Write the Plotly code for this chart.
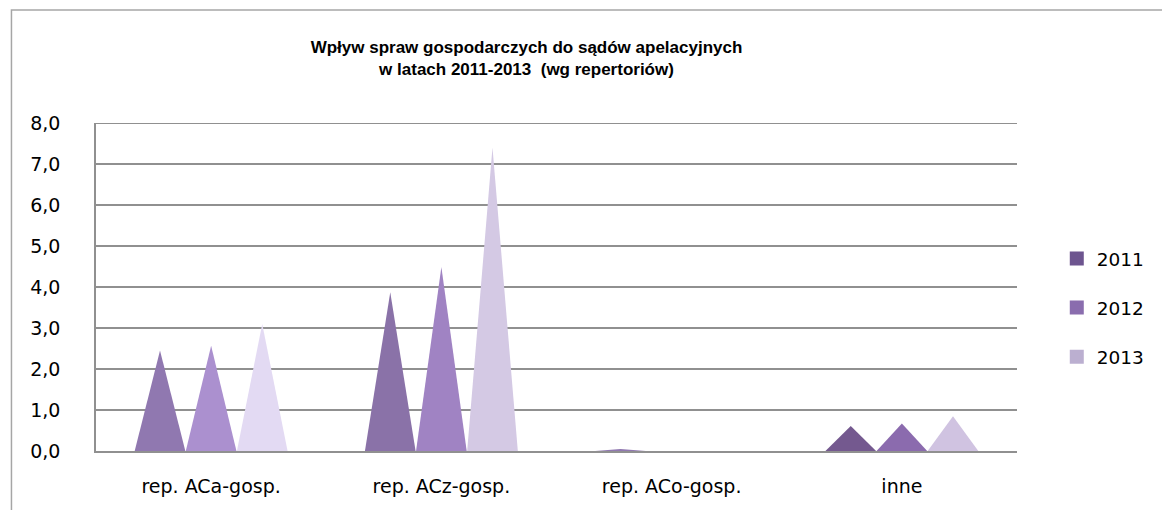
import plotly.graph_objects as go

# Wpływ spraw gospodarczych do sądów apelacyjnych, 2011-2013 (wg repertoriów)
categories = ["rep. ACa-gosp.", "rep. ACz-gosp.", "rep. ACo-gosp.", "inne"]
years = ["2011", "2012", "2013"]
values_2011 = [2.45, 3.87, 0.05, 0.61]
values_2012 = [2.57, 4.49, 0.0, 0.67]
values_2013 = [3.10, 7.40, 0.0, 0.85]
y_ticks = [0, 1, 2, 3, 4, 5, 6, 7, 8]

series = [values_2011, values_2012, values_2013]

# shaded pyramid faces per category (rows) and year (columns)
face_colors = [
    ["#9078B0", "#AB90CF", "#E3DAF3"],
    ["#8A72A8", "#A083C3", "#D4C9E4"],
    ["#9078B0", "#A286C6", "#DCD2EC"],
    ["#74598F", "#8B6BAE", "#D0C3E1"],
]
legend_colors = ["#6D558F", "#8A6DAE", "#BBAFD0"]

W, H = 1162, 510
L, R, T, B = 96, 1022, 123, 451   # plot area in pixels

half = 0.11      # half base width of a pyramid, in category units
step = 0.222     # distance between neighbouring pyramids in a group

fig = go.Figure()

for si, vals in enumerate(series):
    offset = (si - 1) * step
    for ci, v in enumerate(vals):
        cx = ci + offset
        fig.add_trace(go.Scatter(
            x=[cx - half, cx, cx + half, cx - half],
            y=[0, v, 0, 0],
            mode="lines",
            fill="toself",
            fillcolor=face_colors[ci][si],
            line=dict(width=0, color=face_colors[ci][si]),
            hoverinfo="skip",
            showlegend=False,
        ))

for si, name in enumerate(years):
    fig.add_trace(go.Scatter(
        x=[None], y=[None],
        mode="markers",
        marker=dict(symbol="square", size=14, color=legend_colors[si]),
        name=name,
        legendgroup=name,
        showlegend=True,
    ))

grid = "#909090"
axis_font = dict(family="DejaVu Sans", size=19, color="#000000")


def px_x(p):
    return (p - L) / (R - L)


def px_y(p):
    return (B - p) / (B - T)


fig.update_layout(
    width=W, height=H,
    margin=dict(l=L, r=W - R, t=T, b=H - B),
    paper_bgcolor="white",
    plot_bgcolor="white",
    separators=", ",
    showlegend=True,
    title=dict(
        text="Wpływ spraw gospodarczych do sądów apelacyjnych<br>w latach 2011-2013  (wg repertoriów)",
        font=dict(family="Liberation Sans", size=17, color="#000000", weight="bold"),
        x=526.5 / W, xref="container", xanchor="center",
        y=1 - 53 / H, yref="container", yanchor="top",
    ),
    legend=dict(
        x=px_x(1062), xanchor="left",
        y=px_y(240), yanchor="top",
        font=dict(family="DejaVu Sans", size=18.5, color="#000000"),
        tracegroupgap=22,
        itemwidth=30,
        bgcolor="rgba(0,0,0,0)",
    ),
    xaxis=dict(
        range=[-0.5, 3.5],
        tickmode="array",
        tickvals=list(range(len(categories))),
        ticktext=categories,
        showgrid=False,
        zeroline=False,
        showline=True,
        linecolor=grid,
        linewidth=2,
        ticks="",
        ticklabelstandoff=17,
        tickfont=axis_font,
        fixedrange=True,
    ),
    yaxis=dict(
        range=[0, 8],
        tickmode="array",
        tickvals=y_ticks,
        tickformat=".1f",
        showgrid=True,
        gridcolor=grid,
        gridwidth=2,
        zeroline=False,
        showline=True,
        linecolor=grid,
        linewidth=1.5,
        ticks="",
        ticklabelstandoff=30,
        tickfont=axis_font,
        fixedrange=True,
    ),
)

# gridline at the top of the value axis (the edge one is not drawn by the axis)
fig.add_shape(
    type="line", xref="paper", yref="y",
    x0=0, x1=1, y0=y_ticks[-1], y1=y_ticks[-1],
    line=dict(color=grid, width=2),
    layer="below",
)

# chart frame: only its left and top edges fall inside the page
fig.add_shape(
    type="rect", xref="paper", yref="paper",
    x0=px_x(11), y0=px_y(530), x1=px_x(1180), y1=px_y(10),
    line=dict(color="#A6A6A6", width=1.5),
    fillcolor="rgba(0,0,0,0)",
    layer="below",
)

fig.write_html("out.html", config={"displayModeBar": False})
